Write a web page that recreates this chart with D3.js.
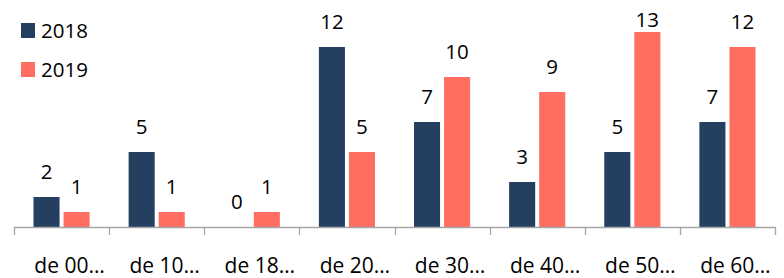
<!DOCTYPE html>
<html><head><meta charset="utf-8">
<script src="https://cdn.jsdelivr.net/npm/d3@7"></script>
<style>body{margin:0;background:#fff}svg{display:block}text{font-family:"Open Sans",sans-serif;fill:#000}</style>
</head><body><svg id="c" width="784" height="278"></svg>
<script>
const categories = ["de 00…","de 10…","de 18…","de 20…","de 30…","de 40…","de 50…","de 60…"];
const seriesNames = ["2018","2019"];
const values2018 = [2,5,0,12,7,3,5,7];
const values2019 = [1,1,1,5,10,9,13,12];
const colors = ["#243F60","#FF6E61"];

const svg = d3.select("#c");
const x0 = d3.scaleBand().domain(categories).range([14,775]).paddingInner(0.41).paddingOuter(0.205);
const x1 = d3.scaleBand().domain(seriesNames).range([0,x0.bandwidth()]).paddingInner(0.133);
const y = d3.scaleLinear().domain([0,13]).range([227,32]);

const data = categories.map((c,i)=>({cat:c, vals:[values2018[i],values2019[i]]}));
const g = svg.append("g").selectAll("g").data(data).join("g")
  .attr("transform",d=>`translate(${x0(d.cat)},0)`);
g.selectAll("rect").data(d=>d.vals.map((v,j)=>({s:seriesNames[j],v,j}))).join("rect")
  .attr("x",d=>x1(d.s)).attr("width",x1.bandwidth())
  .attr("y",d=>y(d.v)).attr("height",d=>y(0)-y(d.v))
  .attr("fill",d=>colors[d.j]);
g.selectAll("text").data(d=>d.vals.map((v,j)=>({s:seriesNames[j],v,j}))).join("text")
  .attr("x",d=>x1(d.s)+x1.bandwidth()/2).attr("y",d=>Math.max(27, y(d.v)-18))
  .attr("text-anchor","middle").attr("font-size",20.5).text(d=>d.v);

// axis
const step = x0.step();
const start = x0.range()[0];
const axis = svg.append("g");
axis.append("line").attr("x1",start).attr("x2",x0.range()[1]).attr("y1",y(0)+0.5).attr("y2",y(0)+0.5)
  .attr("stroke","#A6A6A6").attr("stroke-width",1.3);
d3.range(categories.length+1).forEach(i=>{
  const xx = Math.round(start + i*step)+0.5;
  axis.append("line").attr("x1",xx).attr("x2",xx).attr("y1",y(0)).attr("y2",y(0)+8)
    .attr("stroke","#A6A6A6").attr("stroke-width",1.3);
});
axis.selectAll("text.cat").data(categories).join("text").attr("class","cat")
  .attr("x",d=>x0(d)+x0.bandwidth()/2+8).attr("y",273).attr("text-anchor","middle")
  .attr("font-size",21).text(d=>d);

// legend
const leg = svg.append("g");
seriesNames.forEach((s,i)=>{
  leg.append("rect").attr("x",21).attr("y",23+i*39).attr("width",14).attr("height",15).attr("fill",colors[i]);
  leg.append("text").attr("x",41).attr("y",38+i*38.5).attr("font-size",20.5).text(s);
});
</script></body></html>
